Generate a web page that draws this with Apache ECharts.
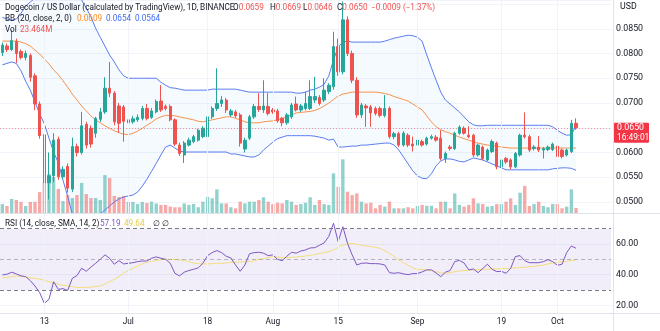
<!DOCTYPE html>
<html><head><meta charset="utf-8">
<script src="https://cdn.jsdelivr.net/npm/echarts@6/dist/echarts.min.js"></script>
<style>html,body{margin:0;padding:0;background:#fff}#c{width:660px;height:331px}</style>
</head><body><div id="c"></div><script>
// ---- categories / ticks ----
const startDate = '2022-06-04';
const dayCount = 131;
const tickDates = ['2022-06-13','2022-07-01','2022-07-18','2022-08-01','2022-08-15','2022-09-01','2022-09-19','2022-10-01'];
const tickLabels = ['13','Jul','18','Aug','15','Sep','19','Oct'];
const priceLabelsShown = [0.05,0.055,0.06,0.065,0.07,0.075,0.08,0.085];
const rsiLabelsShown = [20,40,60];

// ---- OHLC ----
const open = [
.0802,.0815,.0808,.0824,.0804,.0792,.0796,.0755,.0698,.0636,
.0539,.0553,.0627,.0551,.0572,.0526,.0612,.0600,.0657,.0649,
.0639,.0667,.0682,.0730,.0720,.0694,.0692,.0660,.0662,.0666,
.0669,.0689,.0671,.0682,.0704,.0693,.0693,.0666,.0615,.0595,
.0615,.0622,.0625,.0632,.0632,.0672,.0689,.0699,.0706,.0676,
.0682,.0676,.0607,.0629,.0672,.0693,.0686,.0693,.0686,.0684,
.0669,.0660,.0672,.0698,.0686,.0689,.0689,.0706,.0711,.0706,
.0723,.0733,.0814,.0763,.0868,.0800,.0746,.0676,.0694,.0692,
.0689,.0689,.0675,.0689,.0632,.0638,.0615,.0635,.0617,.0615,
.0622,.0617,.0629,.0631,.0629,.0588,.0611,.0608,.0639,.0649,
.0635,.0635,.0595,.0611,.0585,.0602,.0619,.0571,.0588,.0585,
.0571,.0595,.0635,.0632,.0608,.0611,.0605,.0606,.0606,.0613,
.0605,.0595,.0602,.0659];
const close = [
.0817,.0808,.0826,.0800,.0792,.0800,.0752,.0698,.0634,.0539,
.0553,.0625,.0551,.0566,.0528,.0612,.0600,.0654,.0615,.0617,
.0669,.0682,.0730,.0720,.0662,.0659,.0663,.0666,.0668,.0671,
.0689,.0669,.0684,.0703,.0686,.0689,.0666,.0617,.0598,.0619,
.0625,.0632,.0645,.0649,.0672,.0689,.0699,.0706,.0686,.0684,
.0674,.0619,.0625,.0672,.0693,.0687,.0694,.0679,.0682,.0664,
.0660,.0676,.0696,.0686,.0694,.0699,.0713,.0713,.0699,.0726,
.0736,.0814,.0763,.0868,.0800,.0746,.0676,.0696,.0690,.0680,
.0679,.0675,.0689,.0632,.0638,.0615,.0639,.0615,.0613,.0625,
.0615,.0629,.0632,.0625,.0588,.0598,.0608,.0639,.0651,.0639,
.0632,.0595,.0615,.0588,.0605,.0622,.0571,.0585,.0581,.0571,
.0598,.0635,.0632,.0605,.0611,.0605,.0608,.0611,.0617,.0592,
.0592,.0605,.0659,.0650];
const low = [
.0795,.0803,.0805,.0781,.0788,.0786,.0743,.0686,.0628,.0521,
.0505,.0540,.0545,.0546,.0519,.0520,.0592,.0596,.0608,.0610,
.0630,.0662,.0678,.0712,.0655,.0640,.0622,.0655,.0658,.0662,
.0665,.0665,.0668,.0679,.0682,.0685,.0663,.0613,.0593,.0579,
.0612,.0619,.0622,.0629,.0629,.0668,.0684,.0692,.0680,.0672,
.0670,.0612,.0600,.0625,.0668,.0682,.0680,.0675,.0678,.0660,
.0653,.0656,.0668,.0683,.0682,.0685,.0686,.0700,.0695,.0702,
.0718,.0727,.0755,.0758,.0795,.0740,.0670,.0670,.0652,.0652,
.0675,.0671,.0671,.0628,.0627,.0611,.0612,.0611,.0602,.0595,
.0612,.0614,.0626,.0622,.0584,.0579,.0604,.0605,.0636,.0636,
.0629,.0591,.0592,.0584,.0582,.0599,.0566,.0559,.0577,.0566,
.0568,.0592,.0628,.0601,.0604,.0601,.0588,.0603,.0603,.0589,
.0588,.0592,.0599,.0646];
const high = [
.0822,.0820,.0847,.0830,.0808,.0806,.0800,.0760,.0703,.0652,
.0600,.0639,.0632,.0572,.0578,.0630,.0618,.0682,.0662,.0655,
.0672,.0690,.0752,.0783,.0724,.0700,.0696,.0672,.0674,.0677,
.0694,.0698,.0690,.0707,.0736,.0697,.0697,.0669,.0620,.0623,
.0630,.0636,.0648,.0653,.0678,.0693,.0770,.0714,.0710,.0688,
.0686,.0680,.0630,.0676,.0698,.0720,.0746,.0720,.0690,.0688,
.0672,.0680,.0700,.0713,.0698,.0723,.0746,.0753,.0716,.0750,
.0740,.0844,.0830,.0905,.0875,.0806,.0752,.0700,.0698,.0696,
.0693,.0693,.0716,.0693,.0642,.0642,.0643,.0639,.0632,.0628,
.0626,.0632,.0636,.0635,.0645,.0602,.0615,.0642,.0655,.0653,
.0653,.0638,.0618,.0614,.0608,.0626,.0622,.0588,.0591,.0588,
.0601,.0638,.0681,.0636,.0615,.0633,.0611,.0614,.0620,.0616,
.0608,.0608,.0666,.0669];
// ---- volume (millions) ----
const volume = [
42,33,66,61,52,33,52,52,98,145,
183,169,113,56,84,70,84,141,89,70,
70,61,178,164,80,75,80,52,52,42,
52,47,53,45,38,38,30,27,27,45,
38,42,27,53,76,69,111,45,45,27,
22,53,45,53,53,61,74,53,42,48,
45,61,53,38,42,48,74,38,61,42,
38,186,123,252,100,84,92,53,45,48,
22,38,30,53,22,22,22,27,22,33,
38,34,34,22,53,53,22,92,38,30,
38,69,45,42,30,33,42,42,53,69,
38,95,127,33,42,53,33,27,42,42,
22,30,111,23.464];
// ---- Bollinger bands ----
const bbUpper = [
.0873,.0870,.0867,.0870,.0881,.0896,.0904,.0912,.0920,.0920,
.0929,.0933,.0935,.0946,.0952,.0955,.0935,.0908,.0892,.0874,
.0851,.0833,.0815,.0797,.0783,.0767,.0755,.0750,.0750,.0750,
.0750,.0750,.0750,.0750,.0742,.0736,.0731,.0730,.0728,.0726,
.0726,.0726,.0726,.0726,.0726,.0728,.0728,.0728,.0728,.0728,
.0728,.0726,.0724,.0722,.0722,.0722,.0722,.0722,.0722,.0722,
.0722,.0722,.0722,.0720,.0720,.0722,.0726,.0728,.0732,.0738,
.0755,.0787,.0813,.0823,.0825,.0823,.0823,.0823,.0823,.0823,
.0823,.0823,.0825,.0828,.0831,.0833,.0835,.0837,.0836,.0833,
.0825,.0797,.0771,.0746,.0722,.0706,.0698,.0690,.0682,.0672,
.0662,.0656,.0654,.0654,.0655,.0655,.0655,.0655,.0655,.0655,
.0655,.0655,.0655,.0655,.0655,.0655,.0655,.0655,.0652,.0645,
.0639,.0635,.0636,.0654];
const bbBasis = [
.0825,.0825,.0825,.0825,.0823,.0820,.0815,.0807,.0799,.0789,
.0779,.0767,.0757,.0745,.0732,.0718,.0706,.0694,.0684,.0674,
.0666,.0660,.0654,.0649,.0644,.0640,.0637,.0636,.0639,.0643,
.0649,.0655,.0661,.0668,.0672,.0675,.0675,.0674,.0672,.0670,
.0668,.0666,.0663,.0662,.0664,.0666,.0668,.0670,.0672,.0672,
.0669,.0666,.0662,.0660,.0660,.0660,.0662,.0663,.0664,.0666,
.0669,.0672,.0676,.0680,.0681,.0682,.0683,.0685,.0689,.0694,
.0700,.0707,.0714,.0718,.0720,.0722,.0722,.0722,.0722,.0722,
.0722,.0721,.0719,.0717,.0713,.0710,.0707,.0704,.0698,.0692,
.0686,.0674,.0662,.0652,.0646,.0642,.0639,.0635,.0631,.0628,
.0625,.0622,.0619,.0617,.0615,.0614,.0613,.0611,.0610,.0609,
.0609,.0609,.0609,.0609,.0609,.0609,.0609,.0609,.0609,.0609,
.0609,.0609,.0609,.0609];
const bbLower = [
.0777,.0780,.0783,.0780,.0765,.0744,.0726,.0702,.0678,.0658,
.0629,.0601,.0579,.0544,.0512,.0476,.0462,.0455,.0452,.0456,
.0464,.0476,.0484,.0492,.0500,.0506,.0510,.0512,.0514,.0520,
.0532,.0546,.0562,.0578,.0595,.0611,.0615,.0609,.0603,.0601,
.0601,.0601,.0601,.0601,.0601,.0601,.0601,.0601,.0601,.0597,
.0597,.0595,.0593,.0591,.0591,.0595,.0605,.0613,.0621,.0628,
.0631,.0634,.0634,.0634,.0634,.0634,.0634,.0633,.0631,.0629,
.0625,.0627,.0611,.0611,.0612,.0613,.0613,.0615,.0615,.0616,
.0617,.0618,.0619,.0619,.0615,.0605,.0591,.0577,.0563,.0553,
.0548,.0547,.0557,.0573,.0583,.0587,.0587,.0585,.0582,.0581,
.0585,.0589,.0587,.0585,.0581,.0577,.0573,.0569,.0565,.0565,
.0565,.0565,.0565,.0565,.0565,.0565,.0565,.0565,.0567,.0568,
.0569,.0569,.0568,.0564];
// ---- RSI ----
const rsi = [
39.8,40.3,41.6,40.5,39.2,38.7,36.1,32.6,28.3,21.3,
23.9,35.4,30.4,30.9,29.6,37.6,39.4,44.2,42.2,44.9,
47.4,50.0,52.9,50.7,46.8,49.1,47.0,47.4,47.8,48.5,
48.9,48.9,50.7,51.6,50.7,50.0,47.4,40.9,39.2,41.6,
42.7,43.5,44.4,47.4,52.4,54.4,55.7,54.4,52.0,50.9,
46.3,42.2,46.3,53.6,54.4,54.6,54.0,52.4,52.9,50.0,
49.1,52.0,54.6,54.0,55.4,56.1,57.4,57.6,59.2,60.7,
65.0,73.5,61.5,71.3,60.5,52.9,46.3,47.4,47.6,47.2,
47.2,47.0,46.3,41.3,40.9,41.3,40.5,40.0,40.7,40.7,
41.8,43.1,43.1,41.1,38.7,41.6,42.7,48.5,49.3,47.6,
43.1,43.7,41.3,44.0,46.8,43.5,42.0,42.2,40.9,44.2,
51.8,52.4,49.1,47.8,47.8,47.8,48.5,49.8,48.5,46.1,
46.8,54.4,58.7,57.19];
const rsiMa = [
37.8,38.3,38.7,39.1,38.9,38.5,38.0,37.6,37.0,36.3,
35.4,34.6,33.7,33.0,32.6,32.2,31.7,31.7,31.7,31.9,
32.2,32.6,33.9,35.4,37.0,38.7,40.9,42.7,44.2,45.7,
47.0,48.1,48.7,49.3,49.8,50.0,50.0,49.8,49.6,49.1,
48.5,47.6,47.2,47.0,47.0,47.2,47.4,47.4,47.6,48.1,
48.1,48.3,48.5,48.5,49.1,50.0,50.4,51.1,51.8,51.5,
51.1,51.1,51.3,51.5,51.8,52.2,52.6,53.1,53.8,54.4,
55.0,56.1,57.8,59.2,60.1,60.3,59.8,59.2,58.7,58.3,
57.8,57.2,55.7,53.8,51.8,49.6,47.8,46.1,44.4,43.5,
43.3,43.1,42.7,42.0,41.3,40.9,41.3,42.0,42.4,42.7,
42.9,43.1,43.3,43.5,43.5,43.7,43.7,44.0,44.0,44.2,
44.4,44.6,44.8,45.2,45.4,45.9,46.3,47.0,47.6,48.1,
48.3,48.7,49.3,49.64];

const N = open.length;
[close,low,high,volume,bbUpper,bbBasis,bbLower,rsi,rsiMa].forEach((a,k)=>{ if(a.length!==N) throw new Error('length mismatch '+k+': '+a.length); });

const categories = [];
{ const d0 = Date.parse(startDate + 'T00:00:00Z'); for (let k = 0; k < dayCount; k++) categories.push(new Date(d0 + k*86400000).toISOString().slice(0,10)); }

const UP = '#26a69a', DOWN = '#ef5350';
const candleData = open.map((o,k)=>[o, close[k], low[k], high[k]]);
const volData = volume.map((v,k)=>({value:v, itemStyle:{color: close[k] >= open[k] ? 'rgba(38,166,154,0.5)' : 'rgba(239,83,80,0.5)'}}));
const bandWidth = bbUpper.map((u,k)=>u - bbLower[k]);
const lastClose = close[N-1];
const FONT = 'Roboto, "Liberation Sans", sans-serif';
const DARK = '#131722';
const GRIDC = '#f0f3fa';
const tickSet = new Set(tickDates);
const vGridMain = tickDates.map(d => ({xAxis: d, lineStyle: {color: GRIDC, width: 1, type: 'solid'}}));
const vGridRsi = tickDates.map(d => ({xAxis: d, lineStyle: {color: GRIDC, width: 1, type: 'solid'}}));

const chart = echarts.init(document.getElementById('c'), null, {renderer:'canvas'});
chart.setOption({
  animation: false,
  backgroundColor: '#ffffff',
  textStyle: {fontFamily: FONT},
  grid: [
    {left: 0, top: 0, width: 611, height: 213, containLabel: false},
    {left: 0, top: 213, width: 611, height: 100, containLabel: false}
  ],
  xAxis: [
    {gridIndex: 0, type: 'category', data: categories, boundaryGap: true,
     axisLine: {show: false}, axisTick: {show: false}, axisLabel: {show: false}, splitLine: {show: false}},
    {gridIndex: 1, type: 'category', data: categories, boundaryGap: true,
     axisLine: {show: false}, axisTick: {show: false}, splitLine: {show: false},
     axisLabel: {interval: (idx, val) => tickSet.has(val), formatter: val => tickLabels[tickDates.indexOf(val)] || '',
       color: DARK, fontSize: 8.3, fontFamily: FONT, margin: 5}}
  ],
  yAxis: [
    {gridIndex: 0, type: 'value', position: 'right', min: 0.04778, max: 0.09081,
     splitNumber: 8, minInterval: 0.005, maxInterval: 0.005,
     axisLine: {show: false}, axisTick: {show: false},
     axisLabel: {color: DARK, fontSize: 8.8, fontFamily: FONT, margin: 5,
       formatter: v => priceLabelsShown.some(p => Math.abs(p - v) < 1e-7) ? v.toFixed(4) : ''},
     splitLine: {show: true, lineStyle: {color: GRIDC, width: 1}}},
    {gridIndex: 0, type: 'value', min: 0, max: 1000, show: false, splitLine: {show: false}},
    {gridIndex: 1, type: 'value', position: 'right', min: 15, max: 80.2,
     splitNumber: 3, minInterval: 20, maxInterval: 20,
     axisLine: {show: false}, axisTick: {show: false},
     axisLabel: {color: DARK, fontSize: 8.8, fontFamily: FONT, margin: 5,
       formatter: v => rsiLabelsShown.some(p => Math.abs(p - v) < 1e-7) ? v.toFixed(2) : ''},
     splitLine: {show: true, lineStyle: {color: GRIDC, width: 1}}}
  ],
  series: [
    // vertical grid lines, main pane
    {type: 'line', xAxisIndex: 0, yAxisIndex: 0, data: [], z: 0, silent: true,
     markLine: {silent: true, symbol: 'none', label: {show: false}, animation: false, data: vGridMain}},
    // BB fill (stacked)
    {type: 'line', xAxisIndex: 0, yAxisIndex: 0, data: bbLower, stack: 'bb', symbol: 'none', silent: true,
     lineStyle: {opacity: 0}, z: 1},
    {type: 'line', xAxisIndex: 0, yAxisIndex: 0, data: bandWidth, stack: 'bb', symbol: 'none', silent: true,
     lineStyle: {opacity: 0}, areaStyle: {color: 'rgba(33,150,243,0.07)'}, z: 1},
    // volume
    {type: 'bar', xAxisIndex: 0, yAxisIndex: 1, data: volData, barWidth: '72%', z: 2, silent: true},
    // BB lines
    {type: 'line', xAxisIndex: 0, yAxisIndex: 0, data: bbUpper, symbol: 'none', silent: true,
     lineStyle: {color: '#5b7cf0', width: 1}, z: 3},
    {type: 'line', xAxisIndex: 0, yAxisIndex: 0, data: bbLower, symbol: 'none', silent: true,
     lineStyle: {color: '#5b7cf0', width: 1}, z: 3},
    {type: 'line', xAxisIndex: 0, yAxisIndex: 0, data: bbBasis, symbol: 'none', silent: true,
     lineStyle: {color: '#f8924a', width: 1}, z: 3},
    // last-price dotted line
    {type: 'line', xAxisIndex: 0, yAxisIndex: 0, data: [], z: 3, silent: true,
     markLine: {silent: true, symbol: 'none', precision: 6, label: {show: false}, animation: false,
       data: [{yAxis: lastClose, lineStyle: {color: 'rgba(242,54,69,0.5)', width: 1, type: [1, 2]}}]}},
    // candles
    {type: 'candlestick', xAxisIndex: 0, yAxisIndex: 0, data: candleData, barWidth: '62%', z: 4,
     itemStyle: {color: UP, color0: DOWN, borderColor: UP, borderColor0: DOWN, borderWidth: 1}},
    // RSI helpers: band, dashed levels, vertical grid
    {type: 'line', xAxisIndex: 1, yAxisIndex: 2, data: [], z: 1, silent: true,
     markArea: {silent: true, itemStyle: {color: 'rgba(126,87,194,0.1)'}, data: [[{yAxis: 30}, {yAxis: 70}]]},
     markLine: {silent: true, symbol: 'none', precision: 4, label: {show: false}, animation: false,
       data: vGridRsi.concat([
         {yAxis: 70, lineStyle: {color: '#787b86', width: 1, type: [4, 3]}},
         {yAxis: 50, lineStyle: {color: 'rgba(120,123,134,0.5)', width: 1, type: [4, 3]}},
         {yAxis: 30, lineStyle: {color: '#787b86', width: 1, type: [4, 3]}}
       ])}},
    {type: 'line', xAxisIndex: 1, yAxisIndex: 2, data: rsiMa, symbol: 'none', silent: true,
     lineStyle: {color: '#f3de7c', width: 1}, z: 2},
    {type: 'line', xAxisIndex: 1, yAxisIndex: 2, data: rsi, symbol: 'none', silent: true,
     lineStyle: {color: '#7e57c2', width: 1}, z: 3}
  ]
});

// ---- overlay texts & pane borders ----
const py = chart.convertToPixel({yAxisIndex: 0}, lastClose);
function t(x, y, text, fill, size, z) {
  return {type: 'text', z: z || 10, silent: true, style: {x: x, y: y, text: text, fill: fill, font: (size || 8.2) + 'px ' + FONT, verticalAlign: 'middle', align: 'left'}};
}
function rt(x, y, parts) {
  const rich = {}; let s = '';
  parts.forEach((p, k) => { rich['p' + k] = {fill: p[1]}; s += '{p' + k + '|' + p[0] + '}'; });
  return {type: 'text', z: 10, silent: true, style: {x: x, y: y, text: s, rich: rich, font: '8.2px ' + FONT, verticalAlign: 'middle', align: 'left'}};
}
const RED = '#ef5350';
chart.setOption({graphic: [
  {type: 'line', z: 5, silent: true, shape: {x1: 0, y1: 213.5, x2: 660, y2: 213.5}, style: {stroke: '#e0e3eb', lineWidth: 1}},
  {type: 'line', z: 5, silent: true, shape: {x1: 0, y1: 313.5, x2: 660, y2: 313.5}, style: {stroke: '#e0e3eb', lineWidth: 1}},
  {type: 'line', z: 5, silent: true, shape: {x1: 613.5, y1: 0, x2: 613.5, y2: 331}, style: {stroke: '#e0e3eb', lineWidth: 1}},
  t(5, 7.5, 'Dogecoin / US Dollar (calculated by TradingView), 1D, BINANCE', DARK),
  rt(233, 7.5, [['O', DARK], ['0.0659', RED]]),
  rt(270, 7.5, [['H', DARK], ['0.0669', RED]]),
  rt(303, 7.5, [['L', DARK], ['0.0646', RED]]),
  rt(337, 7.5, [['C', DARK], ['0.0650', RED]]),
  t(371, 7.5, '\u22120.0009 (\u22121.37%)', RED),
  t(5, 19, 'BB (20, close, 2, 0)', DARK),
  t(77, 19, '0.0609', '#ff8a1f'),
  t(106, 19, '0.0654', '#3f6df5'),
  t(135, 19, '0.0564', '#3f6df5'),
  t(5, 30, 'Vol', DARK),
  t(20, 30, '23.464M', RED),
  t(5, 223.5, 'RSI (14, close, SMA, 14, 2)', DARK),
  t(100, 223.5, '57.19', '#7e57c2'),
  t(124, 223.5, '49.64', '#e6cd4a'),
  t(153, 223.5, '\u2205', DARK),
  t(162, 223.5, '\u2205', DARK),
  t(620, 7, 'USD', DARK, 8.8),
  {type: 'rect', z: 20, silent: true, shape: {x: 614, y: py - 5, width: 35, height: 20, r: 1}, style: {fill: '#f23645'}},
  t(617, py, '0.0650', '#ffffff', 8.8, 21),
  t(617, py + 10, '16:49:01', '#ffffff', 8.4, 21)
]});
</script></body></html>
